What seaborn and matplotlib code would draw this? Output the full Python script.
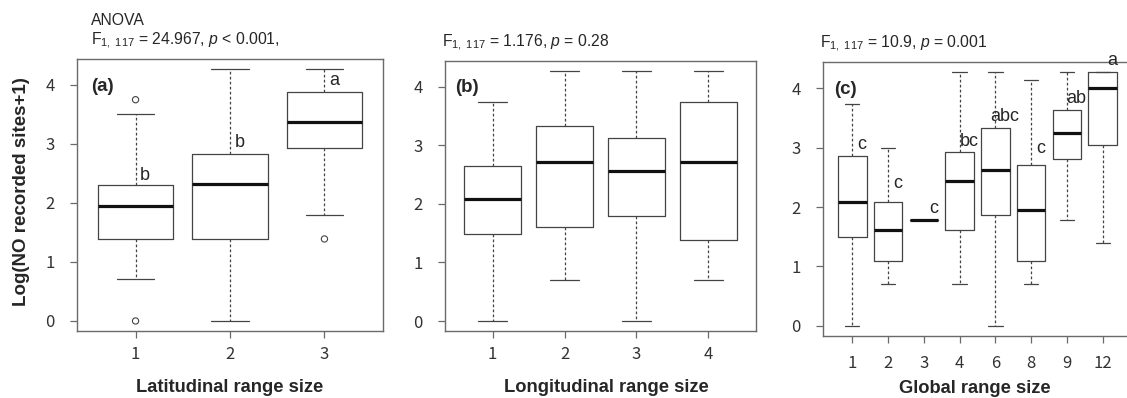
import pandas as pd
import seaborn as sns
import matplotlib.pyplot as plt

# -------------------- DATOS --------------------
# (a) Latitudinal range size
lat_groups = ["1", "2", "3"]
lat_low = [0.71, 0.00, 1.80]
lat_q1 = [1.39, 1.39, 2.93]
lat_med = [1.95, 2.32, 3.37]
lat_q3 = [2.30, 2.83, 3.88]
lat_high = [3.50, 4.27, 4.27]
lat_out_group = ["1", "1", "3"]
lat_out_value = [3.75, 0.00, 1.39]
lat_letters = ["b", "b", "a"]
lat_letter_y = [2.47, 3.03, 4.08]

# (b) Longitudinal range size
lon_groups = ["1", "2", "3", "4"]
lon_low = [0.00, 0.70, 0.00, 0.70]
lon_q1 = [1.49, 1.61, 1.79, 1.39]
lon_med = [2.08, 2.71, 2.56, 2.71]
lon_q3 = [2.64, 3.33, 3.13, 3.74]
lon_high = [3.74, 4.27, 4.27, 4.27]

# (c) Global range size
glob_groups = ["1", "2", "3", "4", "6", "8", "9", "12"]
glob_low = [0.00, 0.70, 1.79, 0.70, 0.00, 0.70, 1.79, 1.39]
glob_q1 = [1.49, 1.10, 1.79, 1.62, 1.87, 1.10, 2.80, 3.05]
glob_med = [2.08, 1.62, 1.79, 2.43, 2.63, 1.95, 3.25, 4.00]
glob_q3 = [2.86, 2.08, 1.79, 2.93, 3.33, 2.70, 3.64, 4.27]
glob_high = [3.74, 3.00, 1.79, 4.27, 4.27, 4.14, 4.27, 4.27]
glob_letters = ["c", "c", "c", "bc", "abc", "c", "ab", "a"]
glob_letter_y = [3.05, 2.39, 1.98, 3.10, 3.52, 2.99, 3.82, 4.46]

titles = ["ANOVA\n" + r"F$_{1,\ 117}$ = 24.967, $p$ < 0.001,",
          r"F$_{1,\ 117}$ = 1.176, $p$ = 0.28",
          r"F$_{1,\ 117}$ = 10.9, $p$ = 0.001"]
xlabels = ["Latitudinal range size", "Longitudinal range size", "Global range size"]
tags = ["(a)", "(b)", "(c)"]
ylabel = "Log(NO recorded sites+1)"


def five_numbers(groups, low, q1, med, q3, high):
    # cinco valores por grupo: los cuartiles de numpy caen justo en q1/med/q3
    rows = []
    for g, a, b, c, d, e in zip(groups, low, q1, med, q3, high):
        for v in (a, b, c, d, e):
            rows.append({"grupo": g, "valor": v})
    return pd.DataFrame(rows)


sns.set_style("ticks")
plt.rcParams["font.family"] = ["Liberation Sans", "DejaVu Sans"]
plt.rcParams["mathtext.fontset"] = "custom"
plt.rcParams["mathtext.rm"] = "Liberation Sans"
plt.rcParams["mathtext.it"] = "Liberation Sans:italic"

W, H = 1127, 398
fig = plt.figure(figsize=(W / 100, H / 100), dpi=100)

# caja de cada panel en pixeles: izquierda, derecha, arriba, abajo
boxes_px = [(77, 383, 59, 331), (445, 756, 61, 331), (823, 1132, 62, 336)]
axes = []
for l, r, t, b in boxes_px:
    axes.append(fig.add_axes([l / W, (H - b) / H, (r - l) / W, (b - t) / H]))

panels = [
    (lat_groups, five_numbers(lat_groups, lat_low, lat_q1, lat_med, lat_q3, lat_high)),
    (lon_groups, five_numbers(lon_groups, lon_low, lon_q1, lon_med, lon_q3, lon_high)),
    (glob_groups, five_numbers(glob_groups, glob_low, glob_q1, glob_med, glob_q3, glob_high)),
]

# posiciones de textos en fraccion del eje
tag_x = [0.046, 0.032, 0.036]
title_x = [0.046, -0.01, -0.01]
xlab_x = [0.5, 0.52, 0.49]
xlab_y = [-0.206, -0.211, -0.19]

gray = "#444444"
for i, (ax, (groups, df)) in enumerate(zip(axes, panels)):
    sns.boxplot(data=df, x="grupo", y="valor", order=groups, ax=ax,
                fill=False, width=0.8, whis=(0, 100), color=gray,
                linewidth=0.9,
                medianprops={"color": "#111111", "linewidth": 2.3},
                whiskerprops={"linestyle": (0, (2.2, 1.8)), "color": gray},
                capprops={"color": gray}, boxprops={"color": gray})
    n = len(groups)
    pad = 0.04 * n
    ax.set_xlim(-0.5 - pad, n - 0.5 + pad)
    ax.set_ylim(-0.17, 4.44)
    ax.set_yticks([0, 1, 2, 3, 4])
    ax.set_ylabel("")
    for s in ax.spines.values():
        s.set_visible(True)
        s.set_color("#6a6a6a")
        s.set_linewidth(1.0)
    ax.tick_params(axis="both", colors="#6a6a6a", length=5, width=0.9,
                   labelcolor="#333333", labelsize=12)
    ax.tick_params(axis="y", pad=11)
    ax.tick_params(axis="x", pad=9 if i == 2 else 6)
    for lab in ax.get_xticklabels() + ax.get_yticklabels():
        lab.set_family(["Noto Sans CJK KR", "DejaVu Sans"])
        lab.set_fontweight("light")
    ax.text(tag_x[i], 0.9, tags[i], transform=ax.transAxes, fontsize=13.5,
            fontweight="bold", va="center", ha="left")
    ax.text(title_x[i], 1.03, titles[i], transform=ax.transAxes, fontsize=11.3,
            va="bottom", ha="left", linespacing=1.15)
    ax.set_xlabel(xlabels[i], fontsize=13.2, fontweight="bold")
    ax.xaxis.label.set_va("center")
    ax.xaxis.set_label_coords(xlab_x[i], xlab_y[i])

# puntos atipicos del panel (a)
sns.stripplot(x=lat_out_group, y=lat_out_value, order=lat_groups, ax=axes[0],
              jitter=False, size=4.5, facecolor="none", edgecolor=gray,
              linewidth=0.8, zorder=4)
axes[0].set_xlim(-0.62, 2.62)
axes[0].set_ylim(-0.17, 4.44)

# letras de Tukey
for ax, groups, letters, ly in [(axes[0], lat_groups, lat_letters, lat_letter_y),
                                (axes[2], glob_groups, glob_letters, glob_letter_y)]:
    for k, (let, y) in enumerate(zip(letters, ly)):
        ax.annotate(let, (k, y), xytext=(7, 0), textcoords="offset points",
                    ha="center", va="center", fontsize=13, annotation_clip=False)

axes[0].set_ylabel(ylabel, fontsize=13.5, fontweight="bold")
axes[0].yaxis.label.set_va("center")
axes[0].yaxis.set_label_coords(-0.18, 0.513)

fig.savefig("out.png", dpi=100)
